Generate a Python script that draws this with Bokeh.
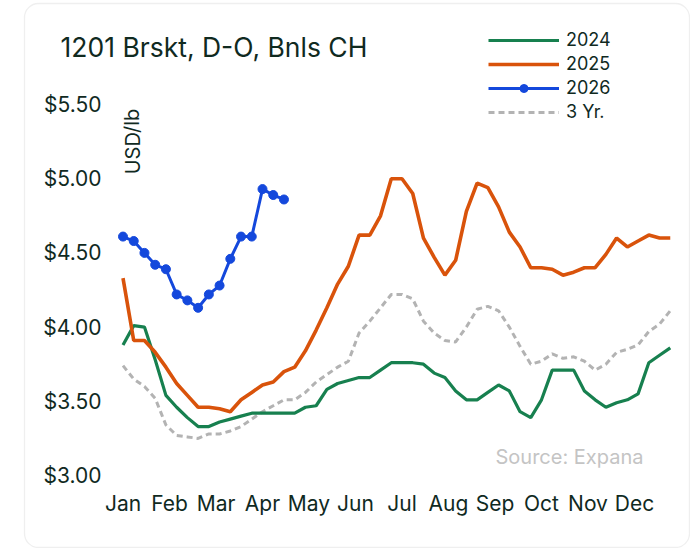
from bokeh.plotting import figure
from bokeh.models import Range1d, Label, Legend, LegendItem, BoxAnnotation
from bokeh.core.properties import value
from bokeh.embed import file_html
from bokeh.resources import INLINE

# ---------------- data ----------------
title_text = "1201 Brskt, D-O, Bnls CH"
months = ["Jan", "Feb", "Mar", "Apr", "May", "Jun", "Jul", "Aug", "Sep", "Oct", "Nov", "Dec"]
y_ticks = [3.0, 3.5, 4.0, 4.5, 5.0, 5.5]
y_tick_labels = ["$3.00", "$3.50", "$4.00", "$4.50", "$5.00", "$5.50"]
weeks_per_year = 52

y2024 = [3.88, 4.01, 4.00, 3.78, 3.54, 3.46, 3.39, 3.33, 3.33, 3.36, 3.38, 3.40,
         3.42, 3.42, 3.42, 3.42, 3.42, 3.46, 3.47, 3.58, 3.62, 3.64, 3.66, 3.66,
         3.71, 3.76, 3.76, 3.76, 3.75, 3.69, 3.66, 3.57, 3.51, 3.51, 3.56, 3.61,
         3.57, 3.43, 3.39, 3.51, 3.71, 3.71, 3.71, 3.57, 3.51, 3.46, 3.49, 3.51,
         3.55, 3.76, 3.81, 3.86]
y2025 = [4.33, 3.91, 3.91, 3.83, 3.73, 3.62, 3.54, 3.46, 3.46, 3.45, 3.43, 3.51,
         3.56, 3.61, 3.63, 3.70, 3.73, 3.84, 3.98, 4.13, 4.29, 4.41, 4.62, 4.62,
         4.75, 5.00, 5.00, 4.90, 4.60, 4.47, 4.35, 4.45, 4.78, 4.97, 4.94, 4.81,
         4.64, 4.54, 4.40, 4.40, 4.39, 4.35, 4.37, 4.40, 4.40, 4.49, 4.60, 4.54,
         4.58, 4.62, 4.60, 4.60]
y2026 = [4.61, 4.58, 4.50, 4.42, 4.39, 4.22, 4.18, 4.13, 4.22, 4.28, 4.46, 4.61,
         4.61, 4.93, 4.89, 4.86]
y3yr = [3.74, 3.65, 3.60, 3.52, 3.34, 3.27, 3.26, 3.25, 3.28, 3.28, 3.30, 3.33,
        3.38, 3.43, 3.47, 3.51, 3.51, 3.56, 3.63, 3.68, 3.73, 3.77, 3.96, 4.04,
        4.13, 4.22, 4.22, 4.19, 4.04, 3.96, 3.91, 3.90, 4.00, 4.12, 4.14, 4.11,
        4.00, 3.87, 3.75, 3.77, 3.82, 3.79, 3.80, 3.77, 3.71, 3.75, 3.83, 3.85,
        3.88, 3.97, 4.02, 4.11]
source_text = "Source: Expana"
axis_title = "USD/lb"


def week_x(series):
    # week index -> month units (Jan = 0)
    return [i * 12 / weeks_per_year for i in range(len(series))]


# ---------------- layout ----------------
W, H = 690, 548
X0_PX, X_SCALE = 122.5, 46.5      # page x of Jan, px per month
Y3_PX, Y_SCALE = 475.0, 148.4     # page y of $3.00, px per dollar


def px_to_x(px):
    return (px - X0_PX) / X_SCALE


def py_to_y(py):
    return 3.0 + (Y3_PX - py) / Y_SCALE


C_2024 = "#17804f"
C_2025 = "#d9530b"
C_2026 = "#1448dc"
C_3YR = "#b3b3b3"
TXT = "#102a1f"
FONT = "Inter"

p = figure(width=W, height=H, output_backend="svg", toolbar_location=None,
           tools="", x_range=Range1d(px_to_x(0), px_to_x(W)),
           y_range=Range1d(py_to_y(H), py_to_y(0)),
           x_axis_location=None, y_axis_location=None,
           min_border=0)
p.outline_line_color = None
p.background_fill_color = "white"
p.border_fill_color = "white"
p.xgrid.grid_line_color = None
p.ygrid.grid_line_color = None

# card border
card = BoxAnnotation(left=24, right=689, top=H - 3, bottom=H - 547,
                     left_units="screen", right_units="screen",
                     top_units="screen", bottom_units="screen",
                     fill_alpha=0, line_color="#c9c9c9", line_width=1.3,
                     border_radius=14)
p.add_layout(card)

# tick labels
p.text(x=[px_to_x(101)] * len(y_ticks), y=y_ticks, text=y_tick_labels,
       text_align="right", text_baseline="middle", text_font=value(FONT),
       text_font_size="21px", text_color=TXT)
p.text(x=list(range(len(months))), y=[py_to_y(503)] * len(months), text=months,
       text_align="center", text_baseline="middle", text_font=value(FONT),
       text_font_size="21px", text_color=TXT)

r3 = p.line(week_x(y3yr), y3yr, line_color=C_3YR, line_width=3, line_dash="6 4")
r24 = p.line(week_x(y2024), y2024, line_color=C_2024, line_width=3.2)
r25 = p.line(week_x(y2025), y2025, line_color=C_2025, line_width=3.6)
r26 = p.line(week_x(y2026), y2026, line_color=C_2026, line_width=3)
r26m = p.scatter(week_x(y2026), y2026, size=9, fill_color=C_2026, line_color=C_2026)

legend = Legend(items=[
    LegendItem(label="2024", renderers=[r24]),
    LegendItem(label="2025", renderers=[r25]),
    LegendItem(label="2026", renderers=[r26, r26m]),
    LegendItem(label="3 Yr.", renderers=[r3]),
], location=(488, H - 122), glyph_width=71, glyph_height=20, label_height=20,
    spacing=3, label_standoff=7, padding=0, margin=0,
    border_line_color=None, background_fill_alpha=0,
    label_text_font=FONT, label_text_font_size="18px", label_text_color=TXT)
p.add_layout(legend, "center")

p.add_layout(Label(x=60, y=H - 46, x_units="screen", y_units="screen", text=title_text,
                   text_font=FONT, text_font_size="26.5px", text_color=TXT,
                   text_baseline="middle", text_align="left"))
p.add_layout(Label(x=132, y=H - 141, x_units="screen", y_units="screen", text=axis_title,
                   angle=1.5708, text_font=FONT, text_font_size="20px",
                   text_color=TXT, text_baseline="middle", text_align="center"))
p.add_layout(Label(x=495, y=H - 456, x_units="screen", y_units="screen", text=source_text,
                   text_font=FONT, text_font_size="20px", text_color="#c4c4c4",
                   text_baseline="middle", text_align="left"))

open("out.html", "w").write(file_html(p, INLINE))
